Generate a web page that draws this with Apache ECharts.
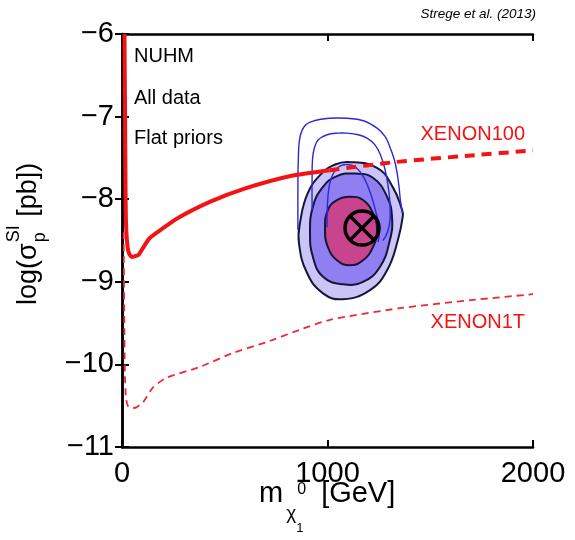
<!DOCTYPE html>
<html>
<head>
<meta charset="utf-8">
<script src="https://cdn.jsdelivr.net/npm/echarts@6/dist/echarts.min.js"></script>
<style>
  html, body { margin: 0; padding: 0; background: #fff; }
  #chart { width: 575px; height: 540px; }
</style>
</head>
<body>
<div id="chart"></div>
<script>
// Axis ranges and ticks
const xRange = [0, 2000];
const xStep = 1000;
const yRange = [-11, -6];
const yStep = 1;

// XENON100 exclusion limit: measured part (solid) and extrapolation (dashed)
const xenon100Solid = [
  [12, -6.0], [15, -7.0], [17, -7.8], [19, -8.25], [24, -8.5], [32, -8.64], [47, -8.7],
  [64, -8.69], [82, -8.67], [102, -8.59], [135, -8.47], [200, -8.35], [270, -8.23],
  [430, -8.03], [600, -7.87], [820, -7.72], [1010, -7.65]
];
const xenon100Dashed = [
  [1010, -7.65], [1330, -7.55], [1700, -7.47], [2000, -7.41]
];

// XENON1T projected sensitivity
const xenon1T = [
  [8, -8.4], [11, -9.4], [14, -10.1], [19, -10.4], [28, -10.5], [45, -10.53], [70, -10.52],
  [102, -10.46], [150, -10.28], [218, -10.16], [380, -10.03], [541, -9.86], [704, -9.73],
  [866, -9.58], [1012, -9.46], [1350, -9.32], [1708, -9.22], [2000, -9.15]
];

// Posterior credible regions (closed contours)
const region95 = [
  [1100, -7.55], [1241, -7.62], [1319, -7.86], [1363, -8.13], [1367, -8.2], [1343, -8.49],
  [1290, -8.86], [1207, -9.10], [1075, -9.21], [978, -9.14], [900, -8.89], [861, -8.53],
  [866, -8.29], [905, -7.92], [978, -7.67], [1027, -7.59]
];
const region68 = [
  [1134, -7.69], [1221, -7.74], [1290, -7.97], [1314, -8.22], [1304, -8.49], [1255, -8.82],
  [1173, -9.00], [1075, -9.03], [978, -8.94], [929, -8.70], [915, -8.41], [929, -8.09],
  [978, -7.85], [1046, -7.72]
];
const regionCore = [
  [1109, -7.97], [1173, -8.01], [1221, -8.17], [1241, -8.37], [1221, -8.58], [1173, -8.74],
  [1109, -8.80], [1046, -8.74], [1002, -8.58], [988, -8.37], [1002, -8.13], [1046, -8.01]
];

// Profile likelihood contours (outline only)
const profileOuter = [
  [856, -8.37], [856, -7.85], [858, -7.52], [866, -7.25], [890, -7.11], [935, -7.05],
  [1010, -7.02], [1095, -7.02], [1175, -7.05], [1241, -7.14], [1280, -7.24], [1304, -7.37],
  [1325, -7.52], [1338, -7.67], [1348, -7.85], [1355, -8.02], [1365, -8.17]
];
const profileMiddle = [
  [925, -8.13], [925, -7.75], [927, -7.52], [936, -7.38], [955, -7.28], [998, -7.22],
  [1050, -7.20], [1095, -7.20], [1150, -7.22], [1192, -7.26], [1230, -7.34], [1257, -7.46],
  [1280, -7.64], [1296, -7.86], [1304, -8.05], [1304, -8.25], [1292, -8.40], [1270, -8.50]
];
const profileInner = [
  [998, -8.34], [1000, -8.05], [1010, -7.82], [1030, -7.68], [1060, -7.60], [1100, -7.58],
  [1140, -7.62], [1175, -7.73], [1208, -7.92], [1235, -8.15], [1252, -8.36], [1246, -8.52]
];

// Best-fit point
const bestFit = [1168, -8.35];

const FONT = "'Liberation Sans', Arial, Helvetica, sans-serif";
const RED = '#f21414';

const chart = echarts.init(document.getElementById('chart'), null, { renderer: 'canvas' });

const measureCtx = document.createElement('canvas').getContext('2d');
function textWidth(str, size, style) {
  measureCtx.font = (style ? style + ' ' : '') + size + 'px ' + FONT;
  return measureCtx.measureText(str).width;
}

function minusFmt(v) {
  return v < 0 ? '\u2212' + Math.abs(v) : String(v);
}

function polygonSeries(points, fill, z) {
  return {
    type: 'custom',
    z: z,
    silent: true,
    data: [[0, 0]],
    renderItem: function (params, api) {
      return {
        type: 'polygon',
        shape: { points: points.map(p => api.coord(p)), smooth: 0.45 },
        style: { fill: fill, stroke: '#15153a', lineWidth: 2 }
      };
    }
  };
}

function outlineSeries(points, z) {
  return {
    type: 'custom',
    z: z,
    silent: true,
    data: [[0, 0]],
    renderItem: function (params, api) {
      return {
        type: 'polyline',
        shape: { points: points.map(p => api.coord(p)), smooth: 0.4 },
        style: { fill: null, stroke: '#2a2ad8', lineWidth: 1.4 }
      };
    }
  };
}

// Axis title pieces (laid out with measured widths)
const yTitleSize = 27, ySubSize = 18;
const wLog = textWidth('log(\u03c3', yTitleSize);
const wSI = textWidth('SI', ySubSize);
const yTitle = {
  type: 'group',
  x: 29, y: 305,
  rotation: Math.PI / 2,
  silent: true,
  children: [
    { type: 'text', x: 0, y: 0, style: { text: 'log(\u03c3', font: yTitleSize + 'px ' + FONT, fill: '#000', align: 'left', verticalAlign: 'middle' } },
    { type: 'text', x: wLog + 1, y: -15, style: { text: 'SI', font: ySubSize + 'px ' + FONT, fill: '#000', align: 'left', verticalAlign: 'middle' } },
    { type: 'text', x: wLog + 1, y: 11, style: { text: 'p', font: ySubSize + 'px ' + FONT, fill: '#000', align: 'left', verticalAlign: 'middle' } },
    { type: 'text', x: wLog + wSI + 2, y: 0, style: { text: ' [pb])', font: yTitleSize + 'px ' + FONT, fill: '#000', align: 'left', verticalAlign: 'middle' } }
  ]
};

const xTitleSize = 29;
const xm = 259;
const wM = textWidth('m', xTitleSize);
const xChi = xm + wM + 3;
const wChi = textWidth('\u03c7', 19);
const xTitle = {
  type: 'group',
  silent: true,
  children: [
    { type: 'text', x: xm, y: 494, style: { text: 'm', font: xTitleSize + 'px ' + FONT, fill: '#000', align: 'left', verticalAlign: 'middle' } },
    { type: 'text', x: xChi, y: 514, style: { text: '\u03c7', font: '19px ' + FONT, fill: '#000', align: 'left', verticalAlign: 'middle' } },
    { type: 'text', x: xChi + wChi, y: 528, style: { text: '1', font: '13px ' + FONT, fill: '#000', align: 'left', verticalAlign: 'middle' } },
    { type: 'text', x: xChi + wChi + 1, y: 490, style: { text: '0', font: '16px ' + FONT, fill: '#000', align: 'left', verticalAlign: 'middle' } },
    { type: 'text', x: xChi + wChi + 25, y: 494, style: { text: '[GeV]', font: xTitleSize + 'px ' + FONT, fill: '#000', align: 'left', verticalAlign: 'middle' } }
  ]
};

function annot(text, x, y, size, color, align, style) {
  return {
    type: 'text', x: x, y: y, silent: true,
    style: { text: text, font: (style ? style + ' ' : '') + size + 'px ' + FONT, fill: color, align: align, verticalAlign: 'middle' }
  };
}

const tickCommon = { show: true, inside: true, length: 7, lineStyle: { color: '#000', width: 2 } };
const axisLineCommon = { show: true, lineStyle: { color: '#000', width: 2.5 } };

const option = {
  animation: false,
  backgroundColor: '#fff',
  grid: { left: 122, right: 42, top: 34, bottom: 93, containLabel: false },
  xAxis: [
    {
      type: 'value', min: xRange[0], max: xRange[1], interval: xStep, position: 'bottom',
      axisLine: axisLineCommon, axisTick: tickCommon,
      axisLabel: { fontSize: 29, fontFamily: FONT, color: '#000', margin: 12, formatter: minusFmt },
      splitLine: { show: false }
    },
    {
      type: 'value', min: xRange[0], max: xRange[1], interval: xStep, position: 'top',
      axisLine: axisLineCommon, axisTick: tickCommon,
      axisLabel: { show: false }, splitLine: { show: false }
    }
  ],
  yAxis: [
    {
      type: 'value', min: yRange[0], max: yRange[1], interval: yStep, position: 'left',
      axisLine: axisLineCommon, axisTick: tickCommon,
      axisLabel: { fontSize: 29, fontFamily: FONT, color: '#000', margin: 8, formatter: minusFmt },
      splitLine: { show: false }
    },
    {
      type: 'value', min: yRange[0], max: yRange[1], interval: yStep, position: 'right',
      axisLine: axisLineCommon, axisTick: tickCommon,
      axisLabel: { show: false }, splitLine: { show: false }
    }
  ],
  series: [
    polygonSeries(region95, '#cbc5f7', 2),
    polygonSeries(region68, '#8f7ff0', 3),
    polygonSeries(regionCore, '#c8458e', 4),
    outlineSeries(profileOuter, 5),
    outlineSeries(profileMiddle, 5),
    outlineSeries(profileInner, 5),
    {
      type: 'line', name: 'XENON100', data: xenon100Solid, z: 6, symbol: 'none', smooth: 0.2,
      lineStyle: { color: RED, width: 4 }
    },
    {
      type: 'line', name: 'XENON100 ext', data: xenon100Dashed, z: 6, symbol: 'none', smooth: 0.2,
      lineStyle: { color: RED, width: 4, type: [10, 7] }
    },
    {
      type: 'line', name: 'XENON1T', data: xenon1T, z: 6, symbol: 'none', smooth: 0.2,
      lineStyle: { color: '#ec2a36', width: 1.8, type: [7, 5] }
    },
    {
      type: 'custom', z: 7, silent: true, data: [bestFit],
      renderItem: function (params, api) {
        const c = api.coord([api.value(0), api.value(1)]);
        const r = 17, d = r * 0.7071;
        const st = { stroke: '#000', lineWidth: 3.5, fill: null };
        return {
          type: 'group',
          children: [
            { type: 'circle', shape: { cx: c[0], cy: c[1], r: r }, style: st },
            { type: 'line', shape: { x1: c[0] - d, y1: c[1] - d, x2: c[0] + d, y2: c[1] + d }, style: st },
            { type: 'line', shape: { x1: c[0] - d, y1: c[1] + d, x2: c[0] + d, y2: c[1] - d }, style: st }
          ]
        };
      }
    }
  ],
  graphic: [
    annot('Strege et al. (2013)', 536, 14, 13.5, '#000', 'right', 'italic'),
    annot('NUHM', 134, 56, 20, '#000', 'left'),
    annot('All data', 134, 98, 20, '#000', 'left'),
    annot('Flat priors', 134, 138, 20, '#000', 'left'),
    annot('XENON100', 525, 134, 20, RED, 'right'),
    annot('XENON1T', 525, 322, 20, RED, 'right'),
    yTitle,
    xTitle
  ]
};

chart.setOption(option);
</script>
</body>
</html>
